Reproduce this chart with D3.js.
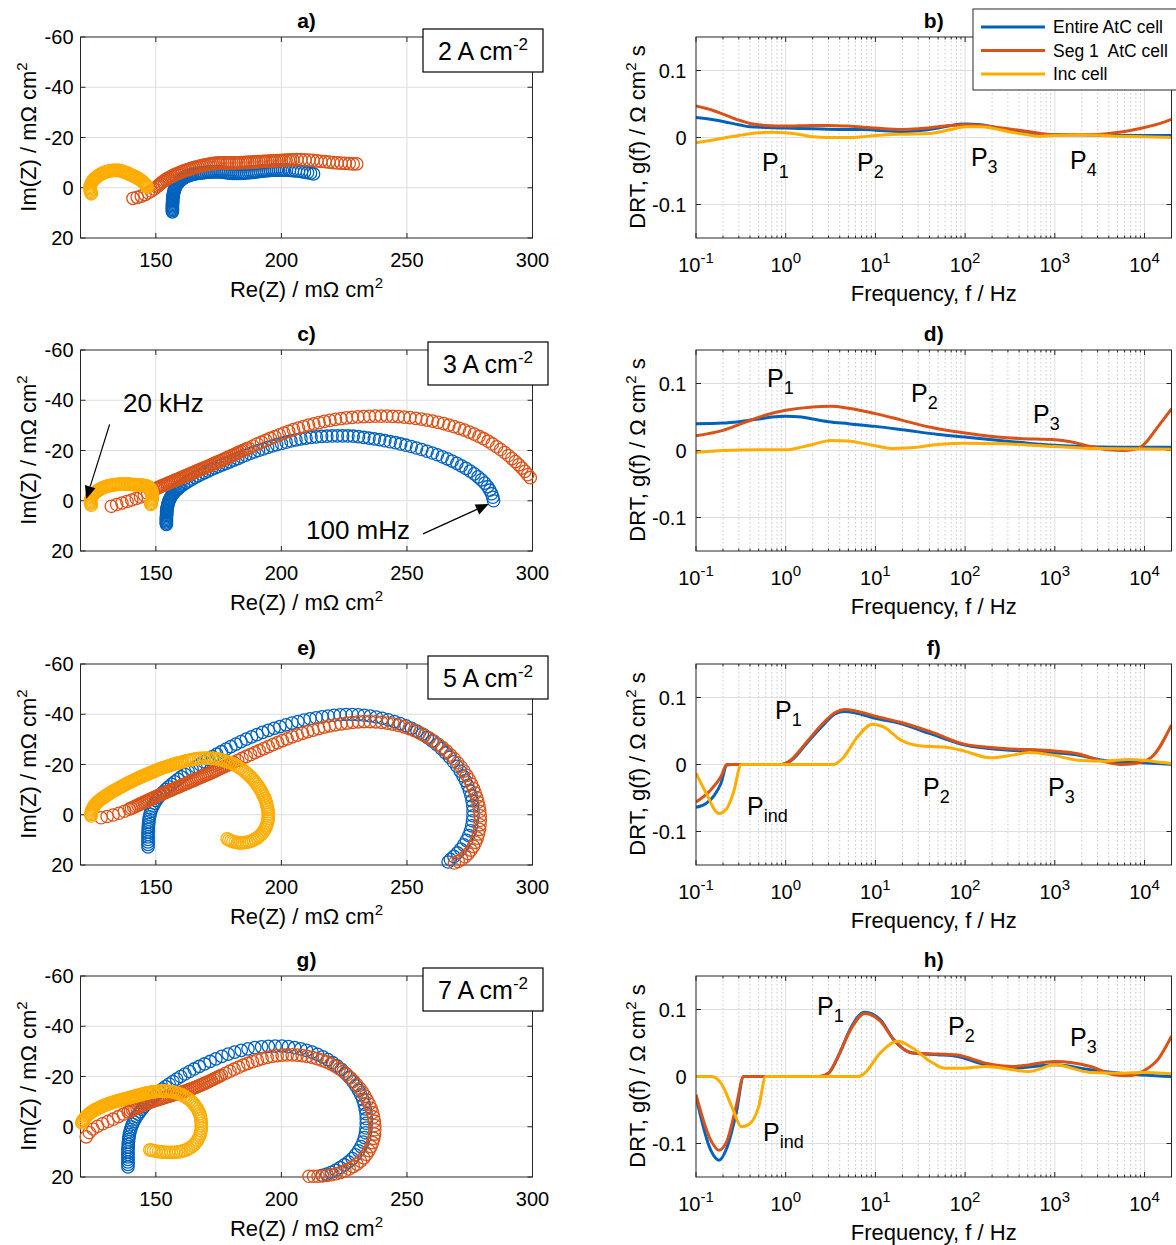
<!DOCTYPE html>
<html><head><meta charset="utf-8">
<script src="https://cdn.jsdelivr.net/npm/d3@7"></script>
<style>
body{margin:0;background:#fff;}
svg text{font-family:"Liberation Sans",Arial,Helvetica,sans-serif;fill:#000;}
</style></head><body>
<svg id="c" width="1176" height="1245"></svg>
<script>
// ---------------- DATA ----------------
const seriesNames = ["Entire AtC cell", "Seg 1  AtC cell", "Inc cell"];
const currents = ["2", "3", "5", "7"];
const panelLettersLeft = ["a)", "c)", "e)", "g)"];
const panelLettersRight = ["b)", "d)", "f)", "h)"];
const nyqXTicks = [150, 200, 250, 300];
const nyqYTicks = [-60, -40, -20, 0, 20];
const drtXTicks = [0.1, 1, 10, 100, 1000, 10000];
const drtXTickExp = ["-1", "0", "1", "2", "3", "4"];
const drtYTicks = [-0.1, 0, 0.1];
const drtYTickLabels = ["-0.1", "0", "0.1"];

// Nyquist [Re, Im] (mOhm cm2)
const nyqA_entire = [[156.6,9.6],[156.6,9.1],[156.6,8.6],[156.6,8.1],[156.6,7.6],[156.6,7.1],[156.6,6.6],[156.7,6.1],[156.7,5.6],[156.7,5.1],[156.7,4.6],[156.8,4.1],[156.8,3.6],[156.9,3.1],[157.0,2.6],[157.1,2.1],[157.2,1.6],[157.3,1.1],[157.5,0.6],[157.7,0.1],[157.9,-0.4],[158.1,-0.9],[158.4,-1.3],[158.7,-1.7],[159.0,-2.1],[159.4,-2.5],[159.8,-2.9],[160.2,-3.3],[160.7,-3.6],[161.2,-3.9],[161.7,-4.2],[162.2,-4.5],[162.8,-4.7],[163.4,-4.9],[164.0,-5.1],[164.6,-5.3],[165.3,-5.4],[166.0,-5.6],[166.8,-5.7],[167.6,-5.8],[168.4,-5.9],[169.2,-6.0],[170.0,-6.1],[170.8,-6.2],[171.6,-6.2],[172.4,-6.3],[173.2,-6.3],[174.0,-6.3],[174.8,-6.3],[175.6,-6.3],[176.4,-6.2],[177.2,-6.1],[178.0,-6.0],[178.8,-5.9],[179.6,-5.8],[180.4,-5.7],[181.2,-5.7],[182.0,-5.7],[182.8,-5.7],[183.6,-5.7],[184.4,-5.8],[185.2,-5.8],[186.0,-5.9],[186.8,-6.0],[187.6,-6.0],[188.4,-6.1],[189.2,-6.2],[190.0,-6.3],[190.8,-6.4],[191.6,-6.5],[192.4,-6.6],[193.2,-6.7],[194.0,-6.8],[194.8,-6.8],[195.6,-6.9],[196.4,-7.0],[197.2,-7.0],[198.0,-7.0],[198.8,-7.0],[199.6,-7.0],[200.4,-7.0],[201.2,-7.0],[202.0,-7.0],[203.2,-6.9],[204.4,-6.8],[205.6,-6.7],[206.8,-6.6],[208.0,-6.4],[209.2,-6.2],[210.4,-6.0],[211.6,-5.8],[212.8,-5.5]];
const nyqA_seg1 = [[140.9,4.2],[142.6,3.8],[144.2,3.3],[145.7,2.7],[147.0,2.0],[148.2,1.3],[149.3,0.5],[150.3,-0.3],[150.8,-0.7],[151.3,-1.2],[151.8,-1.6],[152.3,-2.0],[152.8,-2.4],[153.4,-2.8],[154.0,-3.2],[154.6,-3.6],[155.2,-3.9],[155.9,-4.3],[156.5,-4.6],[157.2,-5.0],[157.9,-5.3],[158.6,-5.6],[159.3,-5.9],[160.0,-6.2],[160.7,-6.5],[161.5,-6.8],[162.2,-7.0],[163.0,-7.3],[163.7,-7.5],[164.5,-7.8],[165.2,-8.0],[166.0,-8.2],[166.8,-8.4],[167.6,-8.6],[168.4,-8.8],[169.2,-9.0],[170.0,-9.1],[170.8,-9.3],[171.6,-9.4],[172.4,-9.6],[173.2,-9.7],[174.0,-9.8],[174.9,-9.9],[175.8,-9.9],[176.7,-9.9],[177.6,-9.9],[178.5,-9.9],[179.4,-9.9],[180.3,-9.9],[181.2,-9.9],[182.1,-9.9],[183.0,-9.9],[183.9,-10.0],[184.8,-10.0],[185.7,-10.1],[186.6,-10.1],[187.5,-10.2],[188.4,-10.2],[189.3,-10.3],[190.2,-10.3],[191.1,-10.4],[192.0,-10.4],[192.9,-10.5],[193.8,-10.5],[194.7,-10.6],[195.6,-10.6],[196.5,-10.7],[197.4,-10.7],[198.3,-10.8],[199.2,-10.8],[200.1,-10.9],[201.0,-10.9],[201.9,-11.0],[202.8,-11.0],[203.7,-11.1],[204.6,-11.1],[206.2,-11.2],[207.8,-11.2],[209.4,-11.1],[211.0,-11.0],[212.6,-10.9],[214.2,-10.7],[215.8,-10.5],[217.4,-10.4],[219.0,-10.2],[220.6,-10.0],[222.2,-9.9],[223.8,-9.8],[225.4,-9.7],[227.0,-9.6],[228.6,-9.5],[230.0,-9.5]];
const nyqA_inc = [[124.3,2.4],[124.1,1.9],[124.0,1.4],[123.9,0.9],[123.8,0.4],[123.8,-0.1],[123.9,-0.6],[124.0,-1.1],[124.2,-1.6],[124.4,-2.0],[124.7,-2.5],[125.0,-2.9],[125.4,-3.3],[125.8,-3.7],[126.2,-4.1],[126.6,-4.4],[127.1,-4.8],[127.6,-5.1],[128.1,-5.4],[128.6,-5.7],[129.1,-5.9],[129.6,-6.1],[130.2,-6.3],[130.7,-6.5],[131.3,-6.6],[131.8,-6.7],[132.4,-6.8],[132.9,-6.9],[133.5,-6.9],[134.0,-6.9],[134.6,-6.9],[135.1,-6.9],[135.7,-6.8],[136.2,-6.7],[136.8,-6.5],[137.3,-6.3],[137.9,-6.1],[138.4,-5.9],[139.0,-5.6],[139.5,-5.4],[140.1,-5.1],[140.6,-4.9],[141.2,-4.6],[141.7,-4.4],[142.2,-4.1],[142.7,-3.8],[143.2,-3.5],[143.7,-3.2],[144.1,-2.9],[144.5,-2.6],[144.9,-2.3],[145.3,-2.0],[145.6,-1.6],[145.9,-1.3],[146.2,-0.9],[146.4,-0.6],[146.6,-0.2]];

const nyqC_entire = [[154.2,9.4],[154.2,8.9],[154.2,8.4],[154.2,7.9],[154.2,7.4],[154.2,6.9],[154.2,6.4],[154.3,5.9],[154.3,5.4],[154.3,4.9],[154.3,4.4],[154.4,3.9],[154.4,3.4],[154.5,2.9],[154.6,2.4],[154.7,1.9],[154.8,1.4],[154.95,0.9],[155.1,0.4],[155.3,-0.1],[155.5,-0.6],[155.75,-1.1],[156.0,-1.6],[156.3,-2.05],[156.6,-2.5],[156.95,-2.95],[157.3,-3.4],[157.7,-3.8],[158.1,-4.2],[158.55,-4.6],[159.0,-5.0],[159.5,-5.4],[160.0,-5.8],[161.0,-6.5],[162.1,-7.2],[163.2,-7.9],[164.4,-8.6],[165.6,-9.3],[166.8,-9.9],[168.1,-10.6],[169.4,-11.2],[170.7,-11.8],[172.1,-12.5],[173.5,-13.1],[174.9,-13.7],[176.4,-14.3],[177.9,-14.9],[179.4,-15.5],[181.0,-16.2],[182.6,-16.8],[184.2,-17.5],[185.8,-18.1],[187.5,-18.8],[189.2,-19.4],[190.9,-20.0],[192.7,-20.6],[194.5,-21.2],[196.3,-21.8],[198.1,-22.3],[200.0,-22.8],[201.9,-23.3],[203.8,-23.8],[205.8,-24.2],[207.8,-24.6],[209.8,-24.9],[211.8,-25.2],[213.9,-25.4],[216.0,-25.6],[218.1,-25.7],[220.2,-25.8],[222.3,-25.8],[224.4,-25.8],[226.5,-25.8],[228.6,-25.7],[230.7,-25.5],[232.8,-25.2],[234.9,-24.9],[237.0,-24.6],[239.1,-24.3],[241.2,-23.9],[243.3,-23.5],[245.4,-23.1],[247.5,-22.6],[249.6,-22.1],[251.7,-21.6],[253.8,-21.0],[255.9,-20.4],[258.0,-19.7],[260.1,-19.0],[262.1,-18.3],[264.1,-17.5],[266.1,-16.7],[268.0,-15.8],[269.9,-14.9],[271.7,-13.9],[273.5,-12.9],[275.2,-11.8],[276.8,-10.7],[278.3,-9.5],[279.7,-8.3],[281.0,-7.0],[282.1,-5.6],[283.0,-4.2],[283.7,-2.8],[284.2,-1.4],[284.5,0.0]];
const nyqC_seg1 = [[132.3,2.2],[134.4,1.5],[136.5,0.9],[138.5,0.3],[140.4,-0.3],[142.2,-0.9],[143.9,-1.5],[145.4,-2.2],[146.8,-2.9],[148.0,-3.6],[149.0,-4.2],[150.0,-4.8],[150.65,-5.1],[151.3,-5.4],[151.95,-5.7],[152.6,-6.0],[153.25,-6.25],[153.9,-6.5],[154.55,-6.8],[155.2,-7.1],[155.85,-7.35],[156.5,-7.6],[157.15,-7.9],[157.8,-8.2],[158.45,-8.45],[159.1,-8.7],[159.75,-9.0],[160.4,-9.3],[161.05,-9.55],[161.7,-9.8],[162.35,-10.1],[163.0,-10.4],[163.7,-10.7],[164.4,-11.0],[165.1,-11.3],[165.8,-11.6],[166.5,-11.9],[167.2,-12.2],[167.9,-12.5],[168.6,-12.8],[169.3,-13.1],[170.0,-13.4],[170.75,-13.7],[171.5,-14.0],[172.25,-14.35],[173.0,-14.7],[173.75,-15.05],[174.5,-15.4],[175.25,-15.7],[176.0,-16.0],[176.75,-16.35],[177.5,-16.7],[178.25,-17.05],[179.0,-17.4],[179.8,-17.75],[180.6,-18.1],[181.4,-18.5],[182.2,-18.9],[183.0,-19.25],[183.8,-19.6],[184.6,-19.95],[185.4,-20.3],[186.2,-20.65],[187.0,-21.0],[188.7,-21.8],[190.4,-22.6],[192.1,-23.3],[193.8,-24.0],[195.6,-24.8],[197.4,-25.5],[199.2,-26.2],[201.0,-26.9],[202.9,-27.6],[204.8,-28.3],[206.8,-28.9],[208.8,-29.5],[210.8,-30.1],[212.9,-30.6],[215.0,-31.1],[217.1,-31.6],[219.3,-32.0],[221.5,-32.4],[223.7,-32.7],[225.9,-33.0],[228.2,-33.2],[230.5,-33.4],[232.8,-33.5],[235.1,-33.6],[237.4,-33.7],[239.7,-33.7],[242.0,-33.7],[244.3,-33.6],[246.6,-33.5],[248.9,-33.3],[251.2,-33.1],[253.5,-32.8],[255.8,-32.5],[258.0,-32.1],[260.2,-31.7],[262.4,-31.2],[264.6,-30.7],[266.7,-30.1],[268.8,-29.5],[270.9,-28.8],[272.9,-28.1],[274.9,-27.3],[276.8,-26.5],[278.7,-25.6],[280.5,-24.7],[282.3,-23.7],[284.0,-22.6],[285.7,-21.5],[287.3,-20.4],[288.9,-19.2],[290.4,-18.0],[291.8,-16.8],[293.2,-15.6],[294.5,-14.3],[295.8,-13.0],[297.0,-11.7],[298.1,-10.4],[299.1,-9.2]];
const nyqC_inc = [[124.3,1.8],[124.1,1.3],[124.0,0.8],[124.0,0.3],[124.0,-0.2],[124.1,-0.7],[124.3,-1.2],[124.5,-1.7],[124.8,-2.1],[125.1,-2.5],[125.5,-2.9],[125.9,-3.3],[126.3,-3.6],[126.7,-3.9],[127.2,-4.2],[127.7,-4.5],[128.2,-4.8],[128.7,-5.1],[129.3,-5.3],[129.8,-5.5],[130.4,-5.7],[130.9,-5.9],[131.5,-6.0],[132.1,-6.1],[132.7,-6.2],[133.3,-6.3],[133.9,-6.4],[134.5,-6.5],[135.1,-6.5],[135.7,-6.6],[136.3,-6.6],[136.9,-6.6],[137.5,-6.6],[138.1,-6.6],[138.7,-6.6],[139.3,-6.6],[139.9,-6.5],[140.5,-6.5],[141.1,-6.4],[141.7,-6.4],[142.3,-6.3],[142.9,-6.3],[143.5,-6.2],[144.1,-6.2],[144.7,-6.1],[145.3,-6.1],[145.8,-6.0],[146.3,-5.9],[146.8,-5.7],[147.2,-5.4],[147.6,-5.1],[147.9,-4.7],[148.1,-4.3],[148.3,-3.9],[148.4,-3.4],[148.5,-2.9],[148.5,-2.4],[148.5,-1.9],[148.5,-1.4],[148.5,-0.9],[148.4,-0.4],[148.3,0.1],[148.2,0.6],[148.1,1.0],[148.0,1.5]];

const nyqE_entire = [[146.9,12.8],[146.9,11.8],[146.9,10.8],[146.9,9.8],[146.9,8.8],[146.9,7.8],[146.9,6.8],[147.0,5.8],[147.0,4.8],[147.1,3.8],[147.2,2.8],[147.3,1.8],[147.5,0.8],[147.7,-0.2],[148.0,-1.3],[148.4,-2.4],[148.9,-3.5],[149.5,-4.6],[150.2,-5.7],[151.0,-6.8],[151.9,-7.9],[152.9,-9.0],[154.0,-10.1],[155.1,-11.1],[156.3,-12.1],[157.5,-13.1],[158.8,-14.1],[160.1,-15.1],[161.5,-16.1],[162.9,-17.1],[164.4,-18.1],[165.9,-19.1],[167.5,-20.1],[169.1,-21.1],[170.8,-22.1],[172.5,-23.1],[174.3,-24.1],[176.1,-25.1],[178.0,-26.1],[179.9,-27.1],[181.9,-28.1],[183.9,-29.1],[186.0,-30.1],[188.1,-31.0],[190.3,-31.9],[192.5,-32.8],[194.8,-33.6],[197.1,-34.4],[199.4,-35.1],[201.8,-35.8],[204.2,-36.5],[206.6,-37.1],[209.0,-37.7],[211.4,-38.2],[213.8,-38.6],[216.2,-39.0],[218.6,-39.3],[221.0,-39.6],[223.4,-39.8],[225.8,-39.9],[228.2,-39.9],[230.6,-39.8],[233.0,-39.6],[235.4,-39.3],[237.8,-38.9],[240.2,-38.4],[242.6,-37.8],[245.0,-37.1],[247.3,-36.3],[249.6,-35.4],[251.8,-34.4],[254.0,-33.3],[256.1,-32.1],[258.1,-30.8],[260.0,-29.4],[261.9,-27.9],[263.7,-26.3],[265.4,-24.6],[267.0,-22.9],[268.5,-21.1],[269.9,-19.3],[271.2,-17.4],[272.3,-15.5],[273.3,-13.6],[274.2,-11.6],[274.9,-9.6],[275.5,-7.6],[275.9,-5.6],[276.2,-3.6],[276.3,-1.6],[276.3,0.4],[276.1,2.4],[275.8,4.4],[275.3,6.4],[274.6,8.3],[273.7,10.2],[272.6,12.0],[271.4,13.7],[270.1,15.2],[268.7,16.6],[267.3,17.8],[266.4,18.8]];
const nyqE_seg1 = [[128.2,1.2],[130.6,0.7],[133.0,0.1],[135.3,-0.6],[137.5,-1.4],[139.4,-2.2],[140.3,-2.6],[141.2,-3.0],[142.05,-3.4],[142.9,-3.8],[143.7,-4.2],[144.5,-4.6],[145.25,-4.95],[146.0,-5.3],[146.75,-5.65],[147.5,-6.0],[148.25,-6.35],[149.0,-6.7],[149.75,-7.05],[150.5,-7.4],[151.25,-7.75],[152.0,-8.1],[152.75,-8.4],[153.5,-8.7],[154.25,-9.05],[155.0,-9.4],[155.75,-9.7],[156.5,-10.0],[157.25,-10.35],[158.0,-10.7],[158.75,-11.0],[159.5,-11.3],[160.25,-11.65],[161.0,-12.0],[161.75,-12.3],[162.5,-12.6],[163.25,-12.95],[164.0,-13.3],[164.75,-13.6],[165.5,-13.9],[166.25,-14.25],[167.0,-14.6],[167.75,-14.9],[168.5,-15.2],[169.25,-15.55],[170.0,-15.9],[170.75,-16.2],[171.5,-16.5],[172.25,-16.85],[173.0,-17.2],[173.8,-17.55],[174.6,-17.9],[175.4,-18.3],[176.2,-18.7],[177.0,-19.05],[177.8,-19.4],[178.6,-19.75],[179.4,-20.1],[180.2,-20.5],[181.0,-20.9],[182.6,-21.6],[184.3,-22.4],[186.0,-23.2],[187.7,-23.9],[189.4,-24.7],[191.2,-25.5],[193.0,-26.3],[194.8,-27.1],[196.6,-27.9],[198.5,-28.7],[200.4,-29.5],[202.3,-30.2],[204.3,-31.0],[206.3,-31.7],[208.4,-32.4],[210.5,-33.1],[212.6,-33.7],[214.8,-34.3],[217.0,-34.9],[219.2,-35.4],[221.5,-35.8],[223.8,-36.2],[226.1,-36.5],[228.4,-36.8],[230.7,-37.0],[233.0,-37.1],[235.3,-37.1],[237.6,-37.0],[239.9,-36.8],[242.2,-36.5],[244.4,-36.1],[246.6,-35.6],[248.8,-35.0],[250.9,-34.3],[253.0,-33.5],[255.0,-32.6],[257.0,-31.6],[258.9,-30.5],[260.7,-29.3],[262.5,-28.0],[264.2,-26.7],[265.8,-25.3],[267.3,-23.8],[268.8,-22.3],[270.2,-20.7],[271.5,-19.1],[272.7,-17.4],[273.8,-15.7],[274.8,-14.0],[275.7,-12.2],[276.5,-10.4],[277.2,-8.6],[277.8,-6.8],[278.3,-5.0],[278.7,-3.2],[279.0,-1.4],[279.2,0.4],[279.2,2.2],[279.1,4.0],[278.9,5.8],[278.5,7.6],[278.0,9.3],[277.3,11.0],[276.5,12.6],[275.5,14.1],[274.4,15.5],[273.2,16.7],[271.8,17.8],[270.4,18.6],[268.9,19.2]];
const nyqE_inc = [[124.3,0.5],[124.2,0.0],[124.2,-0.5],[124.3,-1.0],[124.4,-1.5],[124.6,-2.0],[124.8,-2.5],[125.1,-3.0],[125.4,-3.4],[125.7,-3.9],[126.1,-4.3],[126.5,-4.7],[126.9,-5.1],[127.3,-5.5],[127.8,-5.9],[128.3,-6.3],[128.8,-6.6],[129.3,-7.0],[129.8,-7.3],[130.3,-7.7],[130.8,-8.0],[131.4,-8.4],[131.9,-8.7],[132.5,-9.1],[133.0,-9.4],[133.6,-9.7],[134.1,-10.0],[134.7,-10.3],[135.2,-10.6],[135.8,-10.9],[136.3,-11.2],[136.9,-11.5],[137.4,-11.8],[138.0,-12.1],[138.5,-12.4],[139.1,-12.7],[139.6,-13.0],[140.2,-13.2],[140.7,-13.5],[141.3,-13.8],[141.8,-14.0],[142.4,-14.3],[142.9,-14.6],[143.5,-14.8],[144.0,-15.1],[144.6,-15.3],[145.1,-15.6],[145.7,-15.8],[146.3,-16.1],[146.9,-16.3],[147.5,-16.6],[148.1,-16.8],[148.7,-17.1],[149.3,-17.3],[149.9,-17.6],[150.5,-17.8],[151.1,-18.0],[151.7,-18.3],[152.3,-18.5],[152.9,-18.7],[153.5,-18.9],[154.1,-19.1],[154.7,-19.3],[155.3,-19.5],[155.9,-19.7],[156.5,-19.9],[157.1,-20.1],[157.7,-20.3],[158.3,-20.5],[158.9,-20.6],[159.5,-20.8],[160.1,-20.9],[160.7,-21.1],[161.5,-21.3],[162.4,-21.6],[163.3,-21.8],[164.3,-21.9],[165.2,-22.1],[166.2,-22.2],[167.1,-22.4],[168.1,-22.4],[169.1,-22.5],[170.1,-22.5],[171.1,-22.5],[172.1,-22.4],[173.1,-22.4],[174.1,-22.2],[175.1,-22.1],[176.0,-21.9],[177.0,-21.6],[177.9,-21.3],[178.8,-21.0],[179.7,-20.7],[180.5,-20.3],[181.4,-19.8],[182.2,-19.4],[183.0,-18.9],[183.8,-18.4],[184.5,-17.9],[185.3,-17.3],[186.0,-16.7],[186.7,-16.1],[187.3,-15.5],[188.0,-14.8],[188.6,-14.2],[189.2,-13.5],[189.7,-12.8],[190.3,-12.0],[190.8,-11.3],[191.3,-10.5],[191.8,-9.7],[192.2,-8.9],[192.6,-8.1],[193.0,-7.3],[193.4,-6.5],[193.7,-5.6],[194.0,-4.8],[194.2,-3.9],[194.4,-3.0],[194.6,-2.1],[194.7,-1.2],[194.8,-0.3],[194.8,0.6],[194.7,1.5],[194.6,2.4],[194.4,3.3],[194.1,4.2],[193.8,5.0],[193.4,5.8],[192.9,6.6],[192.4,7.3],[191.8,8.0],[191.1,8.6],[190.4,9.2],[189.6,9.7],[188.8,10.1],[187.9,10.5],[187.0,10.8],[186.1,11.0],[185.2,11.1],[184.3,11.2],[183.4,11.2],[182.5,11.1],[181.6,10.9],[180.7,10.7],[179.9,10.4],[179.1,10.0],[178.4,9.6]];

const nyqG_entire = [[138.9,16.0],[138.9,15.0],[138.9,14.0],[138.9,13.0],[138.9,12.0],[138.9,11.0],[138.9,10.0],[138.9,9.0],[139.0,8.0],[139.0,7.0],[139.1,6.0],[139.2,5.0],[139.3,4.0],[139.5,3.0],[139.7,2.0],[140.0,1.0],[140.3,0.0],[140.7,-1.0],[141.2,-2.0],[141.7,-3.0],[142.3,-4.0],[143.0,-5.0],[143.7,-6.0],[144.5,-7.0],[145.3,-8.0],[146.2,-9.0],[147.1,-10.0],[148.1,-11.0],[149.1,-12.0],[150.2,-13.0],[151.4,-14.0],[152.6,-15.0],[153.9,-16.0],[155.3,-17.0],[156.8,-18.0],[158.3,-19.0],[159.9,-20.0],[161.6,-21.0],[163.4,-22.0],[165.3,-23.0],[167.3,-24.0],[169.4,-25.0],[171.6,-26.0],[173.9,-27.0],[176.3,-28.0],[178.8,-28.9],[181.4,-29.7],[184.0,-30.4],[186.7,-31.0],[189.4,-31.5],[192.1,-31.8],[194.8,-32.0],[197.5,-32.1],[200.2,-32.1],[202.8,-31.9],[205.3,-31.5],[207.7,-31.0],[210.0,-30.4],[212.2,-29.7],[214.4,-28.8],[216.5,-27.8],[218.5,-26.7],[220.4,-25.5],[222.2,-24.2],[223.9,-22.8],[225.5,-21.3],[227.0,-19.7],[228.4,-18.0],[229.6,-16.3],[230.7,-14.5],[231.6,-12.7],[232.4,-10.9],[233.0,-9.0],[233.4,-7.1],[233.7,-5.2],[233.8,-3.3],[233.8,-1.4],[233.7,0.5],[233.5,2.4],[233.1,4.3],[232.5,6.1],[231.7,7.9],[230.7,9.6],[229.5,11.2],[228.2,12.7],[226.7,14.0],[225.1,15.2],[223.4,16.3],[221.7,17.3],[219.9,18.1],[218.1,18.8],[216.3,19.3]];
const nyqG_seg1 = [[122.3,4.0],[123.5,2.3],[125.0,0.9],[126.8,-0.2],[128.8,-1.2],[130.9,-2.1],[133.0,-3.0],[135.1,-4.0],[137.1,-5.0],[139.0,-5.9],[139.9,-6.3],[140.8,-6.7],[141.65,-7.1],[142.5,-7.5],[143.3,-7.9],[144.1,-8.3],[144.9,-8.65],[145.7,-9.0],[146.5,-9.3],[147.3,-9.6],[148.1,-9.9],[148.9,-10.2],[149.7,-10.45],[150.5,-10.7],[151.3,-10.95],[152.1,-11.2],[152.9,-11.45],[153.7,-11.7],[154.5,-11.95],[155.3,-12.2],[156.1,-12.45],[156.9,-12.7],[157.7,-12.95],[158.5,-13.2],[159.3,-13.45],[160.1,-13.7],[160.9,-13.95],[161.7,-14.2],[162.5,-14.5],[163.3,-14.8],[164.1,-15.1],[164.9,-15.4],[165.7,-15.7],[166.5,-16.0],[167.3,-16.35],[168.1,-16.7],[168.9,-17.05],[169.7,-17.4],[170.5,-17.75],[171.3,-18.1],[172.1,-18.5],[172.9,-18.9],[173.7,-19.3],[174.5,-19.7],[175.3,-20.1],[176.1,-20.5],[177.8,-21.3],[179.5,-22.1],[181.2,-22.9],[183.0,-23.7],[184.8,-24.5],[186.6,-25.2],[188.5,-25.9],[190.4,-26.5],[192.3,-27.1],[194.3,-27.6],[196.3,-28.0],[198.3,-28.3],[200.3,-28.5],[202.3,-28.6],[204.3,-28.6],[206.3,-28.5],[208.3,-28.3],[210.3,-28.0],[212.3,-27.6],[214.2,-27.1],[216.1,-26.5],[217.9,-25.8],[219.7,-25.0],[221.4,-24.1],[223.0,-23.1],[224.6,-22.0],[226.1,-20.8],[227.5,-19.5],[228.8,-18.2],[230.0,-16.8],[231.2,-15.3],[232.3,-13.8],[233.3,-12.2],[234.2,-10.6],[235.0,-9.0],[235.7,-7.3],[236.3,-5.6],[236.7,-3.9],[237.0,-2.2],[237.2,-0.5],[237.2,1.2],[237.1,2.9],[236.8,4.6],[236.3,6.3],[235.7,7.9],[234.9,9.5],[233.9,11.0],[232.8,12.4],[231.5,13.7],[230.1,14.9],[228.6,15.9],[227.0,16.8],[225.3,17.6],[223.6,18.2],[221.8,18.7],[220.0,19.1],[218.2,19.4],[216.4,19.6],[214.6,19.7],[212.8,19.7],[211.0,19.7]];
const nyqG_inc = [[120.5,-1.5],[120.7,-2.0],[121.0,-2.5],[121.3,-2.9],[121.7,-3.4],[122.1,-3.8],[122.5,-4.3],[123.0,-4.7],[123.4,-5.1],[123.9,-5.5],[124.4,-5.8],[124.9,-6.2],[125.4,-6.5],[126.0,-6.8],[126.5,-7.1],[127.0,-7.3],[127.6,-7.6],[128.1,-7.9],[128.7,-8.1],[129.2,-8.4],[129.8,-8.6],[130.3,-8.8],[130.9,-9.0],[131.4,-9.2],[132.0,-9.4],[132.5,-9.6],[133.1,-9.8],[133.6,-9.9],[134.2,-10.1],[134.7,-10.3],[135.3,-10.4],[135.8,-10.6],[136.4,-10.7],[136.9,-10.9],[137.5,-11.0],[138.0,-11.2],[138.6,-11.3],[139.1,-11.5],[139.7,-11.6],[140.2,-11.8],[140.8,-11.9],[141.3,-12.1],[141.9,-12.2],[142.4,-12.4],[143.0,-12.5],[143.5,-12.7],[144.1,-12.8],[144.6,-13.0],[145.2,-13.1],[145.7,-13.3],[146.3,-13.4],[146.8,-13.5],[147.4,-13.6],[147.9,-13.7],[148.5,-13.8],[149.0,-13.9],[149.6,-14.0],[150.6,-14.1],[151.6,-14.2],[152.6,-14.2],[153.6,-14.2],[154.6,-14.2],[155.6,-14.1],[156.6,-13.9],[157.5,-13.7],[158.5,-13.4],[159.4,-13.1],[160.3,-12.7],[161.2,-12.2],[162.0,-11.7],[162.8,-11.2],[163.6,-10.6],[164.3,-10.0],[164.9,-9.3],[165.5,-8.6],[166.1,-7.8],[166.6,-7.0],[167.0,-6.1],[167.4,-5.2],[167.7,-4.3],[167.9,-3.4],[168.0,-2.4],[168.1,-1.4],[168.1,-0.4],[168.1,0.6],[168.0,1.6],[167.8,2.6],[167.5,3.5],[167.1,4.4],[166.6,5.3],[166.1,6.1],[165.4,6.9],[164.7,7.6],[163.9,8.2],[163.0,8.7],[162.1,9.2],[161.1,9.5],[160.1,9.8],[159.1,10.0],[158.1,10.1],[157.1,10.2],[156.1,10.2],[155.1,10.2],[154.1,10.2],[153.1,10.1],[152.1,10.0],[151.1,9.9],[150.1,9.7],[149.1,9.5],[148.2,9.3],[147.6,9.2]];

// DRT [f (Hz), g(f) (Ohm cm2 s)]
const drtB_entire = [[0.1,0.030],[0.15,0.027],[0.2,0.024],[0.3,0.019],[0.4,0.016],[0.6,0.015],[1,0.014],[2,0.013],[4,0.012],[7,0.012],[10,0.011],[20,0.009],[30,0.010],[50,0.014],[70,0.018],[100,0.020],[150,0.019],[200,0.016],[300,0.011],[500,0.006],[700,0.004],[1000,0.004],[2000,0.004],[5000,0.003],[10000,0.003],[20000,0.003]];
const drtB_seg1 = [[0.1,0.047],[0.15,0.041],[0.2,0.035],[0.3,0.026],[0.4,0.021],[0.6,0.018],[1,0.017],[2,0.018],[3,0.018],[5,0.017],[10,0.014],[20,0.012],[30,0.013],[50,0.016],[70,0.018],[100,0.019],[150,0.018],[200,0.016],[300,0.013],[500,0.009],[700,0.006],[1000,0.004],[1500,0.004],[2500,0.004],[4000,0.006],[6000,0.009],[10000,0.015],[15000,0.021],[20000,0.027]];
const drtB_inc = [[0.1,-0.008],[0.15,-0.004],[0.2,-0.001],[0.3,0.003],[0.5,0.007],[0.7,0.008],[1,0.007],[1.5,0.004],[2,0.001],[3,0.000],[5,0.000],[7,0.001],[10,0.003],[20,0.005],[40,0.006],[70,0.012],[100,0.016],[150,0.016],[200,0.014],[300,0.009],[500,0.004],[700,0.002],[1000,0.003],[2000,0.004],[5000,0.002],[10000,0.001],[20000,0.000]];

const drtD_entire = [[0.1,0.040],[0.2,0.041],[0.3,0.043],[0.5,0.047],[0.7,0.050],[1,0.051],[1.5,0.050],[2,0.047],[3,0.043],[5,0.040],[10,0.036],[20,0.031],[50,0.024],[100,0.020],[200,0.016],[500,0.011],[1000,0.008],[2000,0.006],[5000,0.005],[10000,0.005],[20000,0.005]];
const drtD_seg1 = [[0.1,0.022],[0.2,0.030],[0.35,0.042],[0.6,0.053],[1,0.060],[2,0.065],[3.2,0.066],[5,0.063],[10,0.055],[20,0.045],[40,0.035],[100,0.026],[200,0.021],[400,0.018],[1000,0.016],[1500,0.013],[2500,0.006],[4000,0.001],[6000,0.000],[8000,0.002],[10000,0.010],[14000,0.035],[20000,0.062]];
const drtD_inc = [[0.1,-0.003],[0.2,0.000],[0.5,0.001],[1,0.001],[1.5,0.005],[2,0.009],[3.2,0.015],[5,0.014],[7,0.011],[10,0.007],[15,0.003],[25,0.004],[50,0.009],[100,0.011],[270,0.010],[1000,0.006],[3000,0.003],[20000,0.002]];

const drtF_entire = [[0.1,-0.064],[0.13,-0.058],[0.16,-0.046],[0.19,-0.028],[0.22,-0.001],[0.25,0],[0.5,0],[0.9,0],[1.15,0.006],[1.7,0.031],[2.5,0.056],[3.6,0.076],[4.5,0.079],[6,0.077],[10,0.069],[19,0.061],[41,0.046],[100,0.029],[270,0.022],[700,0.019],[1800,0.014],[3700,0.0055],[9500,0.0025],[20000,0.0005]];
const drtF_seg1 = [[0.1,-0.056],[0.146,-0.038],[0.19,-0.018],[0.22,0],[0.25,0],[0.5,0],[0.9,0],[1.15,0.007],[1.7,0.033],[2.5,0.059],[3.6,0.078],[4.5,0.082],[6,0.080],[10,0.072],[19,0.063],[41,0.049],[100,0.030],[270,0.024],[1000,0.020],[1800,0.016],[3400,0.005],[5400,0.000],[7900,0.0015],[12000,0.011],[20000,0.059]];
const drtF_inc = [[0.1,-0.013],[0.13,-0.043],[0.18,-0.073],[0.22,-0.066],[0.26,-0.043],[0.32,0],[0.5,0],[1,0],[2,0],[3.4,0],[4.3,0.009],[6.3,0.041],[9.3,0.060],[12.3,0.056],[19.5,0.036],[31,0.028],[59,0.026],[98,0.020],[190,0.010],[340,0.014],[520,0.018],[950,0.014],[1800,0.0065],[3700,0.005],[6600,0.0075],[12000,0.005],[20000,0.0015]];

const drtH_entire = [[0.1,-0.030],[0.146,-0.110],[0.18,-0.125],[0.22,-0.107],[0.28,-0.055],[0.34,0],[0.5,0],[1,0],[2.4,0],[3.0,0.005],[4,0.035],[5.2,0.070],[7.6,0.096],[11.3,0.085],[16,0.055],[26,0.035],[50,0.0325],[82,0.030],[170,0.0175],[340,0.0125],[1000,0.0175],[2500,0.010],[5400,0.005],[20000,0]];
const drtH_seg1 = [[0.1,-0.027],[0.146,-0.095],[0.18,-0.110],[0.22,-0.097],[0.28,-0.045],[0.34,0],[0.5,0],[1,0],[2.4,0],[3.0,0.005],[4,0.035],[5.2,0.068],[7.6,0.094],[11.3,0.083],[16,0.055],[26,0.035],[50,0.0335],[82,0.032],[170,0.020],[340,0.015],[1000,0.0225],[2500,0.015],[4600,0.0025],[6500,0.001],[9500,0.0075],[14500,0.0275],[20000,0.060]];
const drtH_inc = [[0.1,0],[0.15,0],[0.19,-0.010],[0.26,-0.050],[0.32,-0.075],[0.39,-0.0715],[0.5,-0.045],[0.6,0],[1,0],[3,0],[6.5,0],[7.6,0.005],[11.3,0.035],[17.6,0.0525],[26,0.0425],[41,0.0225],[59,0.0125],[98,0.0125],[170,0.015],[340,0.010],[520,0.0075],[1000,0.0175],[2500,0.006],[5400,0.005],[9500,0.006],[20000,0.004]];

// Peak labels [label, subscript, f, g]
const peaksB = [["P","1",0.545,-0.05],["P","2",6.24,-0.05],["P","3",116,-0.0425],["P","4",1479,-0.047]];
const peaksD = [["P","1",0.62,0.0948],["P","2",24.9,0.072],["P","3",571,0.041]];
const peaksF = [["P","1",0.76,0.068],["P","ind",0.37,-0.075],["P","2",33.9,-0.047],["P","3",840,-0.047]];
const peaksH = [["P","1",2.23,0.092],["P","2",64.4,0.062],["P","3",1479,0.0455],["P","ind",0.56,-0.096]];

// Arrow annotations in panel c: [text, textRe, textIm, fromRe, fromIm, toRe, toIm]
const arrowsC = [["20 kHz",136.9,-35.4,131.6,-30.4,122.3,-0.7],["100 mHz",209.8,15.2,256.4,13.2,282.6,1.3]];

// ---------------- LAYOUT ----------------
const colors = ["#0062BD", "#D95319", "#FFAD00"];
const rowTops = [37, 350, 664, 976];
const plotH = 201;
const L = {x0: 80.5, x1: 532.5};
const R = {x0: 696, x1: 1171.5};
const boxLeft = [423, 428, 428, 423];
const AX = "#262626", GRID = "#dedede", MINOR = "#c9c9c9";

const rows = [
  {nyq:[nyqA_entire,nyqA_seg1,nyqA_inc], drt:[drtB_entire,drtB_seg1,drtB_inc], peaks:peaksB, arrows:[]},
  {nyq:[nyqC_entire,nyqC_seg1,nyqC_inc], drt:[drtD_entire,drtD_seg1,drtD_inc], peaks:peaksD, arrows:arrowsC},
  {nyq:[nyqE_entire,nyqE_seg1,nyqE_inc], drt:[drtF_entire,drtF_seg1,drtF_inc], peaks:peaksF, arrows:[]},
  {nyq:[nyqG_entire,nyqG_seg1,nyqG_inc], drt:[drtH_entire,drtH_seg1,drtH_inc], peaks:peaksH, arrows:[]}
];

const svg = d3.select("#c");
svg.append("rect").attr("width",1176).attr("height",1245).attr("fill","#fff");
const defs = svg.append("defs");

rows.forEach((row, i) => {
  const top = rowTops[i], bot = top + plotH;

  // ===== Nyquist =====
  const x = d3.scaleLinear().domain([120, 300]).range([L.x0, L.x1]);
  const y = d3.scaleLinear().domain([-60, 20]).range([top, bot]);
  const gl = svg.append("g");
  gl.selectAll(".gx").data(nyqXTicks.filter(d => d < 300)).join("line").attr("class","gx")
    .attr("x1", d => x(d)).attr("x2", d => x(d)).attr("y1", top).attr("y2", bot)
    .attr("stroke", GRID).attr("stroke-width", 1);
  gl.selectAll(".gy").data(nyqYTicks.filter(d => d > -60 && d < 20)).join("line").attr("class","gy")
    .attr("x1", L.x0).attr("x2", L.x1).attr("y1", d => y(d)).attr("y2", d => y(d))
    .attr("stroke", GRID).attr("stroke-width", 1);
  nyqXTicks.forEach(t => {
    gl.append("line").attr("x1", x(t)).attr("x2", x(t)).attr("y1", bot).attr("y2", bot - 5).attr("stroke", AX);
    gl.append("line").attr("x1", x(t)).attr("x2", x(t)).attr("y1", top).attr("y2", top + 5).attr("stroke", AX);
  });
  nyqYTicks.forEach(t => {
    gl.append("line").attr("x1", L.x0).attr("x2", L.x0 + 5).attr("y1", y(t)).attr("y2", y(t)).attr("stroke", AX);
    gl.append("line").attr("x1", L.x1).attr("x2", L.x1 - 5).attr("y1", y(t)).attr("y2", y(t)).attr("stroke", AX);
  });
  gl.append("rect").attr("x", L.x0).attr("y", top).attr("width", L.x1 - L.x0).attr("height", plotH)
    .attr("fill", "none").attr("stroke", AX).attr("stroke-width", 1);
  row.nyq.forEach((pts, k) => {
    gl.append("g").selectAll("circle").data(pts).join("circle")
      .attr("cx", d => x(d[0])).attr("cy", d => y(d[1])).attr("r", 6.2)
      .attr("fill", "none").attr("stroke", colors[k]).attr("stroke-width", 1.3);
  });
  gl.selectAll(".xl").data(nyqXTicks).join("text").attr("class","xl")
    .attr("x", d => x(d)).attr("y", bot + 29).attr("text-anchor", "middle")
    .style("font-size", "20px").text(d => d);
  gl.selectAll(".yl").data(nyqYTicks).join("text").attr("class","yl")
    .attr("x", L.x0 - 7).attr("y", d => y(d) + 7).attr("text-anchor", "end")
    .style("font-size", "20px").text(d => d);
  const midL = (L.x0 + L.x1) / 2;
  gl.append("text").attr("x", midL).attr("y", top - 9.5).attr("text-anchor", "middle")
    .style("font-size", "21px").style("font-weight", "bold").text(panelLettersLeft[i]);
  const xlab = gl.append("text").attr("x", midL).attr("y", bot + 59).attr("text-anchor", "middle").style("font-size", "22px");
  xlab.append("tspan").text("Re(Z) / m\u03A9 cm");
  xlab.append("tspan").attr("dy", -9).style("font-size", "15px").text("2");
  const ylab = gl.append("text").attr("transform", `translate(36,${top + 100}) rotate(-90)`).attr("text-anchor", "middle").style("font-size", "22px");
  ylab.append("tspan").text("Im(Z) / m\u03A9 cm");
  ylab.append("tspan").attr("dy", -9).style("font-size", "15px").text("2");
  gl.append("rect").attr("x", boxLeft[i]).attr("y", top - 8).attr("width", 120).attr("height", 43)
    .attr("fill", "#fff").attr("stroke", "#000").attr("stroke-width", 1.2);
  const bt = gl.append("text").attr("x", boxLeft[i] + 60).attr("y", top + 23).attr("text-anchor", "middle").style("font-size", "25px");
  bt.append("tspan").text(currents[i] + " A cm");
  bt.append("tspan").attr("dy", -10).style("font-size", "17px").text("-2");
  row.arrows.forEach(a => {
    gl.append("text").attr("x", x(a[1])).attr("y", y(a[2])).style("font-size", "26px").text(a[0]);
    const x1 = x(a[3]), y1 = y(a[4]), x2 = x(a[5]), y2 = y(a[6]);
    const dx = x2 - x1, dy = y2 - y1, len = Math.hypot(dx, dy), ux = dx / len, uy = dy / len;
    const hl = 13, hw = 5.5;
    const bx = x2 - ux * hl, by = y2 - uy * hl;
    gl.append("line").attr("x1", x1).attr("y1", y1).attr("x2", bx).attr("y2", by).attr("stroke", "#000").attr("stroke-width", 1.2);
    gl.append("polygon").attr("points", [[x2, y2], [bx - uy * hw, by + ux * hw], [bx + uy * hw, by - ux * hw]].map(p => p.join(",")).join(" "))
      .attr("fill", "#000");
  });

  // ===== DRT =====
  const xf = d3.scaleLog().domain([0.1, 20000]).range([R.x0, R.x1]);
  const yg = d3.scaleLinear().domain([-0.15, 0.15]).range([bot, top]);
  const gr = svg.append("g");
  const minors = [];
  for (let e = -1; e <= 4; e++) for (let m = 2; m <= 9; m++) { const v = m * Math.pow(10, e); if (v < 20000) minors.push(v); }
  gr.selectAll(".mg").data(minors).join("line").attr("class","mg")
    .attr("x1", d => xf(d)).attr("x2", d => xf(d)).attr("y1", top).attr("y2", bot)
    .attr("stroke", MINOR).attr("stroke-width", 1).attr("stroke-dasharray", "1.5,2.5");
  gr.selectAll(".gx").data(drtXTicks.filter(d => d > 0.1)).join("line").attr("class","gx")
    .attr("x1", d => xf(d)).attr("x2", d => xf(d)).attr("y1", top).attr("y2", bot)
    .attr("stroke", GRID).attr("stroke-width", 1);
  gr.selectAll(".gy").data(drtYTicks).join("line").attr("class","gy")
    .attr("x1", R.x0).attr("x2", R.x1).attr("y1", d => yg(d)).attr("y2", d => yg(d))
    .attr("stroke", GRID).attr("stroke-width", 1);
  drtXTicks.forEach(t => {
    gr.append("line").attr("x1", xf(t)).attr("x2", xf(t)).attr("y1", bot).attr("y2", bot - 5).attr("stroke", AX);
    gr.append("line").attr("x1", xf(t)).attr("x2", xf(t)).attr("y1", top).attr("y2", top + 5).attr("stroke", AX);
  });
  minors.forEach(t => {
    gr.append("line").attr("x1", xf(t)).attr("x2", xf(t)).attr("y1", bot).attr("y2", bot - 2.5).attr("stroke", AX);
    gr.append("line").attr("x1", xf(t)).attr("x2", xf(t)).attr("y1", top).attr("y2", top + 2.5).attr("stroke", AX);
  });
  drtYTicks.forEach(t => {
    gr.append("line").attr("x1", R.x0).attr("x2", R.x0 + 5).attr("y1", yg(t)).attr("y2", yg(t)).attr("stroke", AX);
    gr.append("line").attr("x1", R.x1).attr("x2", R.x1 - 5).attr("y1", yg(t)).attr("y2", yg(t)).attr("stroke", AX);
  });
  const cid = "clip" + i;
  defs.append("clipPath").attr("id", cid).append("rect").attr("x", R.x0).attr("y", top).attr("width", R.x1 - R.x0).attr("height", plotH);
  const line = d3.line().x(d => xf(d[0])).y(d => yg(d[1])).curve(d3.curveMonotoneX);
  row.drt.forEach((pts, k) => {
    gr.append("path").attr("d", line(pts)).attr("fill", "none").attr("stroke", colors[k])
      .attr("stroke-width", 3).attr("stroke-linejoin", "round").attr("clip-path", `url(#${cid})`);
  });
  gr.append("rect").attr("x", R.x0).attr("y", top).attr("width", R.x1 - R.x0).attr("height", plotH)
    .attr("fill", "none").attr("stroke", AX).attr("stroke-width", 1);
  drtXTicks.forEach((t, j) => {
    const tx = gr.append("text").attr("x", xf(t)).attr("y", bot + 34).attr("text-anchor", "middle").style("font-size", "20px");
    tx.append("tspan").text("10");
    tx.append("tspan").attr("dy", -9).style("font-size", "15px").text(drtXTickExp[j]);
  });
  drtYTicks.forEach((t, j) => {
    gr.append("text").attr("x", R.x0 - 9.5).attr("y", yg(t) + 7).attr("text-anchor", "end").style("font-size", "20px").text(drtYTickLabels[j]);
  });
  const midR = (R.x0 + R.x1) / 2;
  gr.append("text").attr("x", midR).attr("y", top - 9.5).attr("text-anchor", "middle")
    .style("font-size", "21px").style("font-weight", "bold").text(panelLettersRight[i]);
  gr.append("text").attr("x", midR).attr("y", bot + 63).attr("text-anchor", "middle").style("font-size", "22px").text("Frequency, f / Hz");
  const ylr = gr.append("text").attr("transform", `translate(645,${top + 100}) rotate(-90)`).attr("text-anchor", "middle").style("font-size", "22px");
  ylr.append("tspan").text("DRT, g(f) / \u03A9 cm");
  ylr.append("tspan").attr("dy", -9).style("font-size", "15px").text("2");
  ylr.append("tspan").attr("dy", 9).text(" s");
  row.peaks.forEach(p => {
    const t = gr.append("text").attr("x", xf(p[2])).attr("y", yg(p[3])).style("font-size", "25px");
    t.append("tspan").text(p[0]);
    t.append("tspan").attr("dy", 7).style("font-size", "18px").text(p[1]);
  });

  if (i === 0) {
    const lg = svg.append("g");
    lg.append("rect").attr("x", 973).attr("y", 9).attr("width", 210).attr("height", 81)
      .attr("fill", "#fff").attr("stroke", AX).attr("stroke-width", 1);
    seriesNames.forEach((n, k) => {
      const ly = 27 + k * 23.5;
      lg.append("line").attr("x1", 981).attr("x2", 1045).attr("y1", ly).attr("y2", ly)
        .attr("stroke", colors[k]).attr("stroke-width", 3);
      lg.append("text").attr("x", 1053).attr("y", ly + 6).style("font-size", "17.5px").style("white-space","pre").attr("xml:space","preserve").text(n);
    });
  }
});
</script>
</body></html>
